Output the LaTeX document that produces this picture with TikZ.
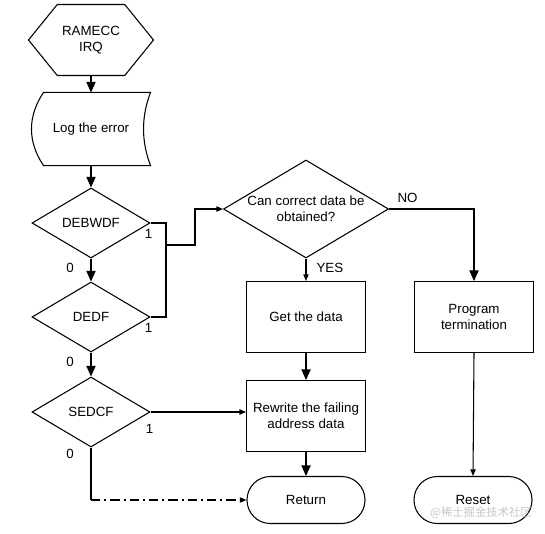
\documentclass[tikz,border=0pt]{standalone}
\usepackage{fontspec}
\setmainfont{Liberation Sans}
\newfontfamily\cjkfont{Noto Sans CJK SC}
\usetikzlibrary{shapes.geometric, shapes.symbols, arrows.meta}

\begin{document}
\begin{tikzpicture}[x=0.75pt, y=0.75pt, line width=0.8pt, font=\fontsize{10}{12}\selectfont,
                flag/.style={diamond, draw, inner sep=0pt, minimum width=88.5pt, minimum height=52.5pt, shape aspect=1.7},
                box/.style={rectangle, draw, align=center, minimum width=89pt, minimum height=53.25pt},
                term/.style={rectangle, draw, rounded corners=17.5pt, minimum width=88.5pt, minimum height=35.25pt},
                bigtip/.style={-{Triangle[length=8pt, width=7pt]}},
                smalltip/.style={-{Triangle[length=5pt, width=4pt]}},
                bit/.style={inner sep=0pt}]
                \useasboundingbox (0,0) rectangle (545,533);

                \node (RAMECC) at (91,493) [signal, signal to=east and west, signal pointer angle=102, draw, align=center, minimum width=93.75pt, minimum height=53.25pt] {RAMECC\\IRQ};
                \node (LOG) at (91,404) [minimum width=88.5pt, minimum height=54pt] {Log the error};
                \draw ([xshift=9pt]LOG.north west) -- (LOG.north east) .. controls +(-7pt,-18pt) and +(-7pt,18pt) .. (LOG.south east)
                    -- ([xshift=9pt]LOG.south west) .. controls +(-12pt,18pt) and +(-12pt,-18pt) .. cycle;

                \foreach \position / \name in {(91,310)/DEBWDF, (91,216)/DEDF, (91,121)/SEDCF}
                    \node (\name) at \position [flag] {\name};

                \node (ASK) at (306,324) [flag, minimum width=123.75pt, minimum height=73.5pt, inner xsep=-6pt, align=center] {Can correct data be\\obtained?};
                \node (GET) at (306,216) [box] {Get the data};
                \node (PROG) at (474,216) [box] {Program\\termination};
                \node (REWRITE) at (306,117) [box] {Rewrite the failing\\address data};
                \node (RETURN) at (306,33) [term] {Return};
                \node (RESET) at (473,33) [term] {Reset};
                \coordinate (JOIN) at (166,288);

                \draw [bigtip] (RAMECC.south) -- (LOG.north);
                \draw [bigtip] (LOG.south) -- (DEBWDF.north);
                \draw [bigtip] (DEBWDF.south) -- node [bit, left=12.5pt, pos=0.4] {0} (DEDF.north);
                \draw [bigtip] (DEDF.south) -- node [bit, left=12.5pt, pos=0.4] {0} (SEDCF.north);

                \node [bit] at ([shift={(-2,-11)}]DEBWDF.east) {1};
                \node [bit] at ([shift={(-2,-11)}]DEDF.east) {1};
                \node [bit] at ([shift={(-1,-17)}]SEDCF.east) {1};

                \draw (DEBWDF.east) -| (JOIN) |- (DEDF.east);
                \draw [smalltip] (JOIN) -- ++(29,0) |- (ASK.west);

                \draw [bigtip] (ASK.east) -| (PROG.north);
                \node [bit, anchor=south west] at ([shift={(8,6)}]ASK.east) {NO};
                \draw [smalltip] (ASK.south) -- (GET.north);
                \node [bit, anchor=north west] at ([shift={(10,-4)}]ASK.south) {YES};

                \draw [bigtip] (GET.south) -- (REWRITE.north);
                \draw [smalltip] (SEDCF.east) -- (SEDCF.east -| REWRITE.west);
                \draw [bigtip] (REWRITE.south) -- (RETURN.north);
                \draw [smalltip] (PROG.south) -- (RESET.north);

                \draw (SEDCF.south) -- node [bit, left=12.5pt, pos=0.12] {0} (SEDCF.south |- RETURN.west) coordinate (TURN);
                \draw [smalltip, dash pattern=on 7pt off 3pt on 1.5pt off 3pt] (TURN) -- (RETURN.west);

                \node (MARK) at (481,20) [text=gray!45, font=\cjkfont\fontsize{8.5}{10}\selectfont] {@稀土掘金技术社区};
            \end{tikzpicture}
\end{document}
